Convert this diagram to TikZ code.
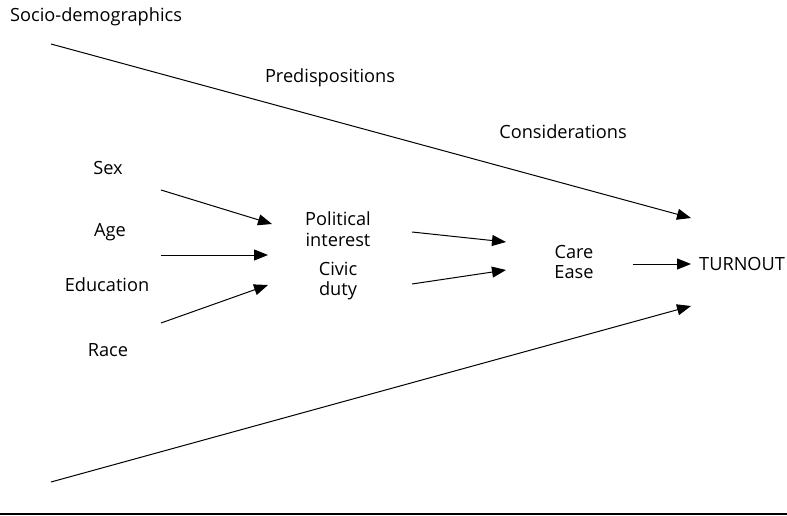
\documentclass[tikz,border=0pt]{standalone}
\usepackage{fontspec}
\setmainfont{Open Sans}
\usetikzlibrary{arrows.meta}
\begin{document}
\begin{tikzpicture}[x=1pt,y=-1pt,
  lbl/.style={inner sep=0pt,font=\fontsize{18.2}{20.5}\selectfont,align=center},
  conn/.style={line width=1pt,-{Triangle[length=14pt,width=11pt]}}]
\useasboundingbox (0,0) rectangle (787,516);
\node[lbl,anchor=west] (socio) at (10,17) {Socio-demographics};
\node[lbl] (predisp) at (330,78) {Predispositions};
\node[lbl] (consid) at (563,132) {Considerations};
\node[lbl] (sex) at (108,168) {Sex};
\node[lbl] (age) at (110,232) {Age};
\node[lbl] (edu) at (107,285) {Education};
\node[lbl] (race) at (108,350) {Race};
\node[lbl] (polint) at (338,229) {Political\\interest};
\node[lbl] (civic) at (338,281) {Civic\\duty};
\node[lbl] (care) at (574,262) {Care\\Ease};
\node[lbl,anchor=west] (turnout) at (699,264) {TURNOUT};
\coordinate (topS) at (51,44);
\coordinate (topE) at (691,218);
\coordinate (botS) at (51,482);
\coordinate (botE) at (691,306);
\coordinate (sexS) at (161,190);
\coordinate (sexE) at (272,224);
\coordinate (ageS) at (161,255);
\coordinate (ageE) at (268,255);
\coordinate (raceS) at (161,323);
\coordinate (raceE) at (268,285);
\coordinate (piS) at (412,232);
\coordinate (piE) at (506,242);
\coordinate (cdS) at (412,284);
\coordinate (cdE) at (506,270);
\coordinate (ceS) at (633,264);
\coordinate (ceE) at (691,264);
\draw[conn] (topS) -- (topE);
\draw[conn] (botS) -- (botE);
\draw[conn] (sexS) -- (sexE);
\draw[conn] (ageS) -- (ageE);
\draw[conn] (raceS) -- (raceE);
\draw[conn] (piS) -- (piE);
\draw[conn] (cdS) -- (cdE);
\draw[conn] (ceS) -- (ceE);
\coordinate (ruleL) at (0,514);
\coordinate (ruleR) at (787,514);
\draw[line width=1.2pt] (ruleL) -- (ruleR);
\end{tikzpicture}
\end{document}
